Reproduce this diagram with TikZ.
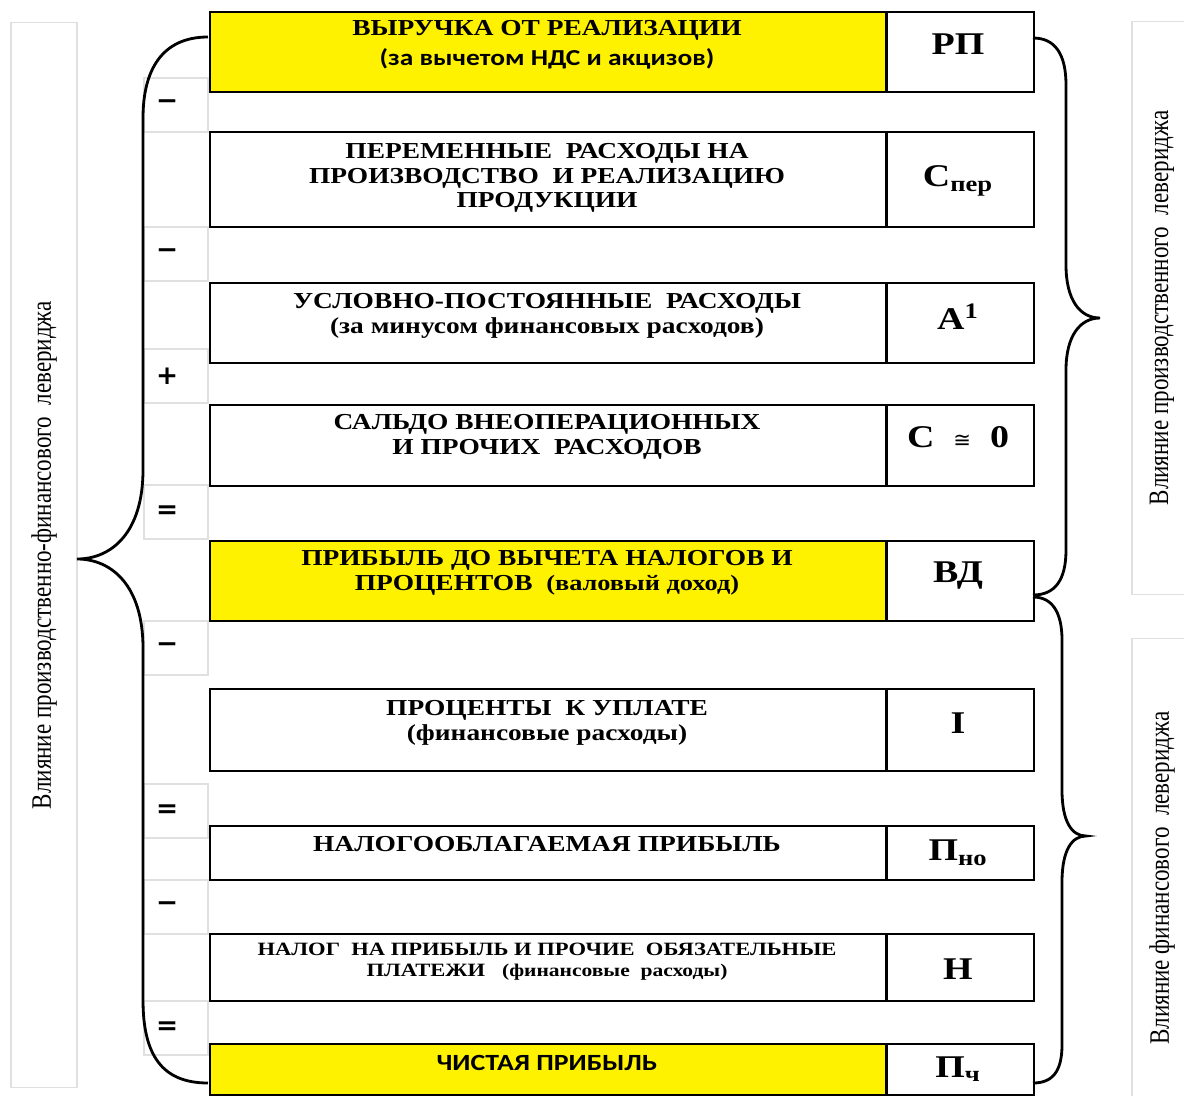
\documentclass[tikz,border=0pt]{standalone}
\usepackage{fontspec}
\setmainfont{Liberation Serif}[FakeStretch=1.2]
\setsansfont{Carlito}[FakeStretch=1.2]
\newfontfamily\sidefont{Liberation Serif}[FakeStretch=0.82]
\newfontfamily\opfont{DejaVu Sans}
\usetikzlibrary{positioning}

\begin{document}
\begin{tikzpicture}[x=0.02cm,y=-0.02cm,
 item/.style={draw,line width=0.9pt,minimum width=13.52cm,inner sep=0pt,anchor=north west},
 hi/.style={item,fill=yellow},
 code/.style={draw,line width=0.9pt,minimum width=2.94cm,inner sep=0pt},
 op/.style={draw=black!12,line width=0.6pt,minimum width=1.28cm,minimum height=1.08cm,text width=0.8cm,align=left,font=\opfont\bfseries\fontsize{15}{15}\selectfont},
 side/.style={draw=black!12,line width=0.6pt,rotate=90,font=\sidefont\fontsize{16}{18}\selectfont},
 txt/.style={align=center,inner sep=0pt,font=\bfseries\fontsize{13}{14}\selectfont},
 sym/.style={inner sep=0pt,font=\bfseries\fontsize{18}{18}\selectfont},
 brace/.style={line width=1.6pt}]
\useasboundingbox (0,0) rectangle (1184,1096);

% side captions
\node[side,minimum width=21.3cm,minimum height=1.32cm] (lcap) at (44,555) {Влияние производственно-финансового~ левериджа};
\node[side,minimum width=11.46cm,minimum height=1.2cm] (rcap1) at (1162,308) {Влияние производственного~ левериджа};
\node[side,minimum width=9.6cm,minimum height=1.2cm] (rcap2) at (1162,878) {Влияние финансового~ левериджа};

% rows
\node[hi,minimum height=1.6cm] (b1) at (209,11) {};
\node[code,minimum height=1.6cm,right=0pt of b1] (c1) {};
\node[item,minimum height=1.9cm] (b2) at (209,131) {};
\node[code,minimum height=1.9cm,right=0pt of b2] (c2) {};
\node[item,minimum height=1.6cm] (b3) at (209,282) {};
\node[code,minimum height=1.6cm,right=0pt of b3] (c3) {};
\node[item,minimum height=1.62cm] (b4) at (209,404) {};
\node[code,minimum height=1.62cm,right=0pt of b4] (c4) {};
\node[hi,minimum height=1.6cm] (b5) at (209,540) {};
\node[code,minimum height=1.6cm,right=0pt of b5] (c5) {};
\node[item,minimum height=1.64cm] (b6) at (209,688) {};
\node[code,minimum height=1.64cm,right=0pt of b6] (c6) {};
\node[item,minimum height=1.08cm] (b7) at (209,825) {};
\node[code,minimum height=1.08cm,right=0pt of b7] (c7) {};
\node[item,minimum height=1.34cm] (b8) at (209,933) {};
\node[code,minimum height=1.34cm,right=0pt of b8] (c8) {};
\node[hi,minimum height=1.02cm] (b9) at (209,1043) {};
\node[code,minimum height=1.02cm,right=0pt of b9] (c9) {};

% row texts
\node[txt] (t1) at (547,45) {ВЫРУЧКА ОТ РЕАЛИЗАЦИИ\\[3pt]{\sffamily\fontsize{13}{13}\selectfont (за вычетом НДС и акцизов)}};
\node[txt] (t2) at (547,178) {ПЕРЕМЕННЫЕ~ РАСХОДЫ НА\\ПРОИЗВОДСТВО~ И РЕАЛИЗАЦИЮ\\ПРОДУКЦИИ};
\node[txt] (t3) at (547,316) {УСЛОВНО-ПОСТОЯННЫЕ~ РАСХОДЫ\\{\fontsize{13}{13}\selectfont (за минусом финансовых расходов)}};
\node[txt] (t4) at (547,437) {САЛЬДО ВНЕОПЕРАЦИОННЫХ\\И ПРОЧИХ~ РАСХОДОВ};
\node[txt] (t5) at (547,573) {ПРИБЫЛЬ ДО ВЫЧЕТА НАЛОГОВ И\\ПРОЦЕНТОВ~ {\fontsize{12.5}{13}\selectfont (валовый доход)}};
\node[txt] (t6) at (547,723) {ПРОЦЕНТЫ~ К УПЛАТЕ\\{\fontsize{13}{13}\selectfont (финансовые расходы)}};
\node[txt] (t7) at (547,844) {НАЛОГООБЛАГАЕМАЯ ПРИБЫЛЬ};
\node[txt,font=\bfseries\fontsize{10.7}{12}\selectfont] (t8) at (547,962) {НАЛОГ~ НА ПРИБЫЛЬ И ПРОЧИЕ~ ОБЯЗАТЕЛЬНЫЕ\\ПЛАТЕЖИ~~ {\fontsize{10.2}{11}\selectfont (финансовые~ расходы)}};
\node[txt,font=\sffamily\bfseries\fontsize{13.2}{14}\selectfont] (t9) at (547,1063) {ЧИСТАЯ ПРИБЫЛЬ};

% codes
\node[sym] (k1) at (958,44) {РП};
\node[sym] (k2) at (958,181) {С\textsubscript{пер}};
\node[sym] (k3) at (958,317) {А\textsuperscript{1}};
\node[sym] (k4) at (958,437) {С~ {\opfont\mdseries\fontsize{12}{12}\selectfont ≅}~ 0};
\node[sym] (k5) at (958,576) {ВД};
\node[sym] (k6) at (958,723) {I};
\node[sym] (k7) at (958,853) {П\textsubscript{но}};
\node[sym] (k8) at (958,969) {Н};
\node[sym] (k9) at (958,1069) {П\textsubscript{ч}};

% operators
\node[op] (o1) at (176,105) {−};
\node[op] (o2) at (176,254) {−};
\node[op] (o3) at (176,376) {+};
\node[op] (o4) at (176,512) {=};
\node[op] (o5) at (176,648) {−};
\node[op] (o6) at (176,811) {=};
\node[op] (o7) at (176,907) {−};
\node[op] (o8) at (176,1028) {=};

% braces
\coordinate (ltip) at (77,559);
\coordinate (rtip1) at (1100,318);
\coordinate (rtip2) at (1086,836);
\draw[brace] (208,37) .. controls (162,37) and (143,70) .. (143,118) -- (143,470)
  .. controls (143,532) and (112,559) .. (ltip)
  .. controls (112,559) and (143,586) .. (143,648) -- (143,1000)
  .. controls (143,1055) and (162,1083) .. (208,1083);
\draw[brace] (1033,38) .. controls (1055,38) and (1066,54) .. (1066,85) -- (1066,265)
  .. controls (1066,300) and (1080,318) .. (rtip1)
  .. controls (1080,318) and (1066,336) .. (1066,370) -- (1066,550)
  .. controls (1066,580) and (1055,595) .. (1033,595);
\draw[brace] (1033,597) .. controls (1052,597) and (1062,612) .. (1062,640) -- (1062,790)
  .. controls (1062,822) and (1072,836) .. (rtip2)
  .. controls (1072,836) and (1062,850) .. (1062,882) -- (1062,1045)
  .. controls (1062,1072) and (1052,1083) .. (1033,1083);
\end{tikzpicture}
\end{document}
